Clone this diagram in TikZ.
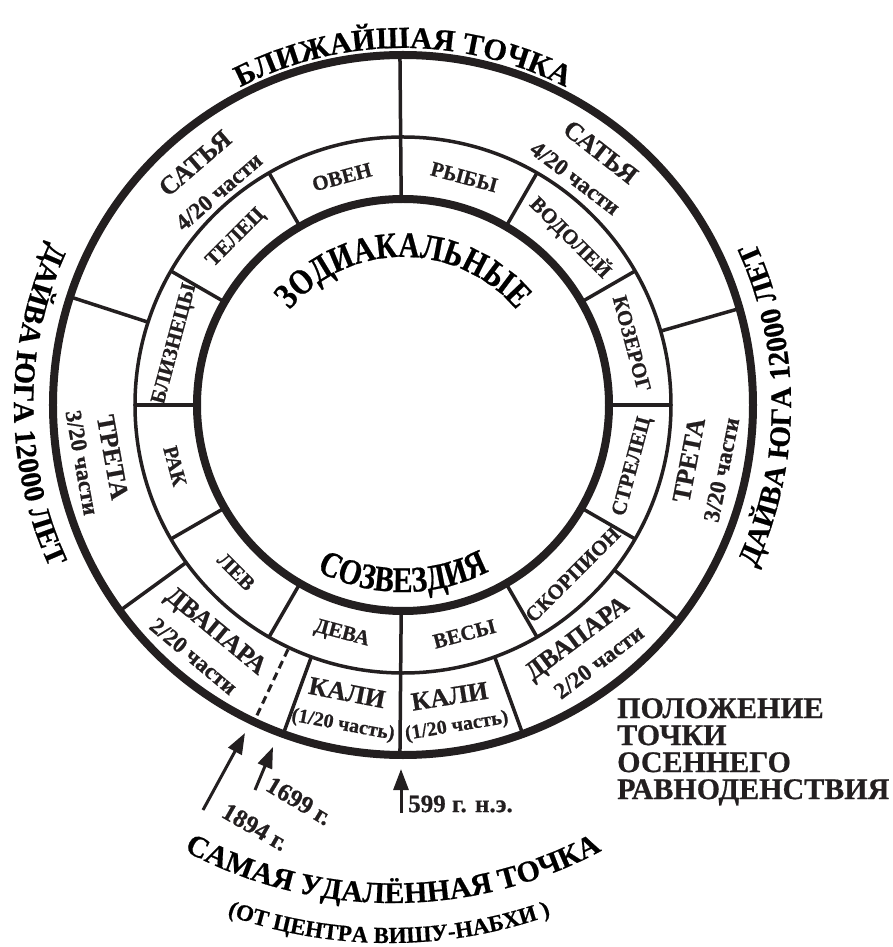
\documentclass[tikz,border=0pt]{standalone}
\usepackage{fontspec}
\setmainfont{Liberation Serif}[BoldFeatures={FakeBold=0.6}]
\newfontfamily\narrowserif[FakeStretch=0.82, BoldFeatures={FakeBold=0.6}]{Liberation Serif}
\definecolor{inkblack}{RGB}{35, 31, 32}
\usetikzlibrary{arrows.meta, decorations.text, calc}
\newcommand\bigarcfont{\bfseries\fontsize{30.5}{30.5}\selectfont}
\newcommand\sidearcfont{\bfseries\fontsize{29.5}{29.5}\selectfont}
\newcommand\innerarcfont{\narrowserif\bfseries\fontsize{36}{36}\selectfont}
\newcommand\farfont{\bfseries\fontsize{30}{30}\selectfont}
\newcommand\farsubfont{\bfseries\fontsize{23}{23}\selectfont}

\begin{document}
\begin{tikzpicture}[x=1pt, y=1pt, inkblack,
  thickring/.style={draw=inkblack, line width=8pt},
  thinring/.style={draw=inkblack, line width=3.5pt},
  divider/.style={draw=inkblack, line width=3.5pt},
  sign/.style={inner sep=0pt, font=\bfseries\fontsize{21}{21}\selectfont},
  yuganame/.style={inner sep=0pt, font=\bfseries\fontsize{26}{26}\selectfont},
  yugapart/.style={inner sep=0pt, font=\bfseries\fontsize{23}{23}\selectfont},
  yearlabel/.style={inner sep=0pt, font=\bfseries\fontsize{25}{25}\selectfont},
  yeararrow/.style={draw=inkblack, line width=3pt, -{Triangle[length=21pt, width=15pt]}}]
  \useasboundingbox (-403,-542) rectangle (490,405);

  % Rings
  \draw[thickring] (0,0) circle[radius=350];
  \draw[thinring] (0,0) circle[radius=268];
  \draw[thickring] (0,0) circle[radius=206];

  % Main axis: nearest point and farthest point
  \draw[divider] (90.5:206) -- (90.5:350);
  \draw[divider] (269.5:206) -- (269.5:350);

  % Zodiac dividers
  \draw[divider] (0:206) -- (0:268);
  \draw[divider] (30:206) -- (30:268);
  \draw[divider] (60:206) -- (60:268);
  \draw[divider] (120:206) -- (120:268);
  \draw[divider] (150:206) -- (150:268);
  \draw[divider] (180:206) -- (180:268);
  \draw[divider] (210:206) -- (210:268);
  \draw[divider] (240:206) -- (240:268);
  \draw[divider] (300:206) -- (300:268);
  \draw[divider] (330:206) -- (330:268);

  % Yuga dividers
  \draw[divider] (16:268) -- (16:350);
  \draw[divider] (162:268) -- (162:350);
  \draw[divider] (216:268) -- (216:350);
  \draw[divider] (250:268) -- (250:350);
  \draw[divider] (290:268) -- (290:350);
  \draw[divider] (322:268) -- (322:350);
  \draw[draw=inkblack, line width=3pt, dash pattern=on 8pt off 5pt] (244.8:270) -- (244.8:346);

  % Zodiac signs
  \node[sign, rotate=15] (oven) at (105:236) {ОВЕН};
  \node[sign, rotate=-15] (ryby) at (75:236) {РЫБЫ};
  \node[sign, rotate=-45] (vodoley) at (45:237) {ВОДОЛЕЙ};
  \node[sign, rotate=-75] (kozerog) at (15:237) {КОЗЕРОГ};
  \node[sign, rotate=75] (strelec) at (345:238) {СТРЕЛЕЦ};
  \node[sign, rotate=45] (skorpion) at (315:240) {СКОРПИОН};
  \node[sign, rotate=15] (vesy) at (285:237) {ВЕСЫ};
  \node[sign, rotate=-15] (deva) at (255:237) {ДЕВА};
  \node[sign, rotate=-45] (lev) at (225:236) {ЛЕВ};
  \node[sign, rotate=-75] (rak) at (195:236) {РАК};
  \node[sign, rotate=75] (bliznecy) at (165:236) {БЛИЗНЕЦЫ};
  \node[sign, rotate=45] (telec) at (135:236) {ТЕЛЕЦ};

  % Satya
  \node[yuganame, rotate=40.7] (satyaL) at (130.7:319) {САТЬЯ};
  \node[yugapart, rotate=40.8] (satyaLpart) at (130.8:282) {4/20 части};
  \node[yuganame, rotate=-38] (satyaR) at (52:321) {САТЬЯ};
  \node[yugapart, rotate=-37.2] (satyaRpart) at (52.8:285) {4/20 части};

  % Treta
  \node[yuganame, rotate=-79.8] (tretaL) at (190.2:295) {ТРЕТА};
  \node[yugapart, rotate=-79.8] (tretaLpart) at (190.2:326) {3/20 части};
  \node[yuganame, rotate=79.1] (tretaR) at (-10.9:291) {ТРЕТА};
  \node[yugapart, rotate=78.5] (tretaRpart) at (-11.5:325) {3/20 части};

  % Dvapara
  \node[yuganame, rotate=-39.6] (dvaparaL) at (230.4:295) {ДВАПАРА};
  \node[yugapart, rotate=-39.8] (dvaparaLpart) at (230.2:327) {2/20 части};
  \node[yuganame, rotate=36.7] (dvaparaR) at (-53.3:293) {ДВАПАРА};
  \node[yugapart, rotate=37.3] (dvaparaRpart) at (-52.7:323) {2/20 части};

  % Kali
  \node[yuganame, rotate=-11] (kaliL) at (259:293) {КАЛИ};
  \node[yugapart, font=\bfseries\fontsize{20}{20}\selectfont, rotate=-10.6] (kaliLpart) at (259.4:326) {(1/20 часть)};
  \node[yuganame, rotate=9.1] (kaliR) at (279.1:295) {КАЛИ};
  \node[yugapart, font=\bfseries\fontsize{20}{20}\selectfont, rotate=9.5] (kaliRpart) at (279.5:326) {(1/20 часть)};

  % Texts along arcs
  \path[decorate, decoration={text along path, text align=center,
    text={|\bigarcfont|БЛИЖАЙШАЯ ТОЧКА}}] (140:357) arc[start angle=140, end angle=40, radius=357];
  \path[decorate, decoration={text along path, text align=center,
    text={|\sidearcfont|ДАЙВА ЮГА 12000 ЛЕТ}}] (125:389) arc[start angle=125, end angle=235, radius=389];
  \path[decorate, decoration={text along path, text align=center,
    text={|\sidearcfont|ДАЙВА ЮГА 12000 ЛЕТ}}] (-55:388) arc[start angle=-55, end angle=55, radius=388];
  \path[decorate, decoration={text along path, text align=center,
    text={|\innerarcfont|ЗОДИАКАЛЬНЫЕ}}] (170:148) arc[start angle=170, end angle=10, radius=148];
  \path[decorate, decoration={text along path, text align=center,
    text={|\innerarcfont|СОЗВЕЗДИЯ}}] (200:187) arc[start angle=200, end angle=340, radius=187];
  \path[decorate, decoration={text along path, text align=center,
    text={|\farfont|САМАЯ УДАЛЁННАЯ ТОЧКА}}] ($(-10,-56)+(215:442)$) arc[start angle=215, end angle=325, radius=442];
  \path[decorate, decoration={text along path, text align=center,
    text={|\farsubfont|(ОТ ЦЕНТРА ВИШУ-НАБХИ )}}] ($(-14,-56)+(220:482)$) arc[start angle=220, end angle=320, radius=482];

  % Epoch arrows
  \coordinate (tail1894) at (-200,-405);
  \coordinate (tip1894) at (-158,-328);
  \coordinate (tail1699) at (-148,-385);
  \coordinate (tip1699) at (-130,-342);
  \coordinate (tail599) at (-2,-408);
  \coordinate (tip599) at (-2,-364);
  \draw[yeararrow] (tail1894) -- (tip1894);
  \draw[yeararrow] (tail1699) -- (tip1699);
  \draw[yeararrow] (tail599) -- (tip599);
  \node[yearlabel, rotate=-31] (y1699) at (-104,-396) {1699 г.};
  \node[yearlabel, rotate=-30] (y1894) at (-148,-422) {1894 г.};
  \node[yearlabel, anchor=west] (y599) at (5,-399) {599 г. н.э.};

  % Equinox point
  \node[inner sep=0pt, anchor=north west, align=left, font=\bfseries\fontsize{30}{27}\selectfont] (equinox) at (214,-293) {ПОЛОЖЕНИЕ\\ТОЧКИ\\ОСЕННЕГО\\РАВНОДЕНСТВИЯ};
\end{tikzpicture}
\end{document}
